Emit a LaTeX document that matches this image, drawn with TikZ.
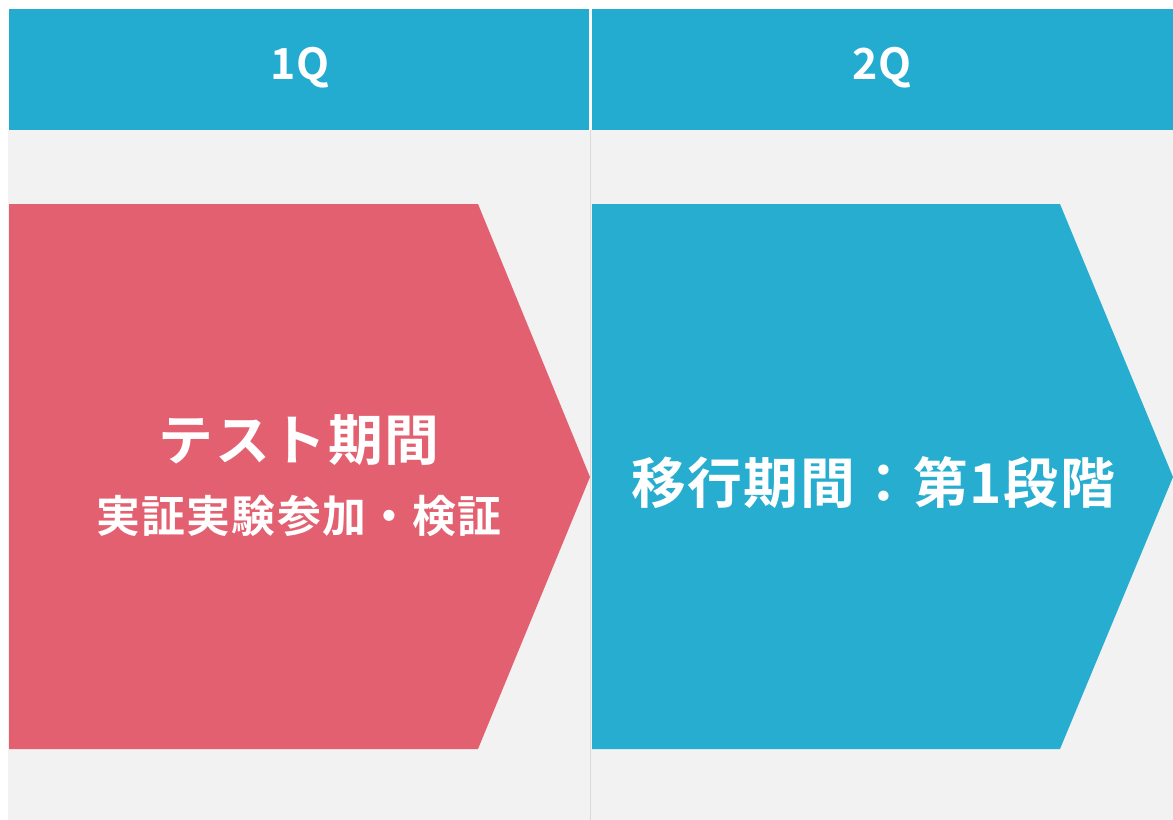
\documentclass[tikz,border=0pt]{standalone}
\usepackage{fontspec}
\setmainfont{Noto Sans CJK JP Bold}
\newfontfamily\jpb{Noto Sans CJK JP Bold}
\newfontfamily\jpbs[LetterSpace=3]{Noto Sans CJK JP Bold}
\definecolor{hdrblue}{HTML}{23ACD0}
\definecolor{arrblue}{HTML}{27ADCF}
\definecolor{arrred}{HTML}{E36070}
\definecolor{bggray}{HTML}{F2F2F2}
\definecolor{divgray}{HTML}{D9D9D9}
\tikzset{
  hdrtext/.style={text=white, font=\jpb\fontsize{43}{46}\selectfont, anchor=center, inner sep=0pt},
  bigtext/.style={text=white, font=\jpbs\fontsize{55}{58}\selectfont, anchor=center, inner sep=0pt},
  subtext/.style={text=white, font=\jpbs\fontsize{44}{47}\selectfont, anchor=center, inner sep=0pt}
}
\begin{document}
\begin{tikzpicture}[x=1bp,y=-1bp]
\useasboundingbox (0,0) rectangle (1173,820);
\fill[white] (0,0) rectangle (1173,820);
\fill[bggray] (8,130) rectangle (1173,820);
\fill[hdrblue] (9,9) rectangle (589,130);
\fill[hdrblue] (592,9) rectangle (1173,130);
\draw[divgray, line width=1.5bp] (590.5,130) -- (590.5,820);
\fill[arrred] (9,204) -- (478,204) -- (590,477) -- (478,749) -- (9,749) -- cycle;
\fill[arrblue] (592,204) -- (1060,204) -- (1173,477) -- (1060,749) -- (592,749) -- cycle;
\node[hdrtext] (q1) at (300,68) {1Q};
\node[hdrtext] (q2) at (882,68) {2Q};
\node[bigtext] (t1) at (299,440) {テスト期間};
\node[subtext] (t2) at (299,516) {実証実験参加・検証};
\node[bigtext] (t3) at (873,483) {移行期間：第1段階};
\end{tikzpicture}
\end{document}
